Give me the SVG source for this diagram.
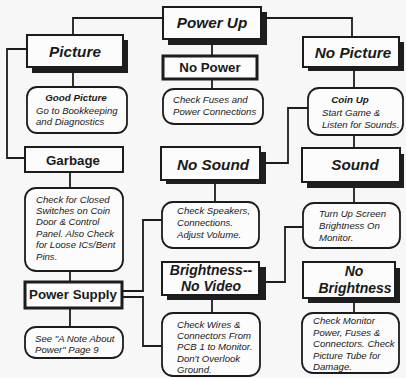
<svg xmlns="http://www.w3.org/2000/svg" width="406" height="378" viewBox="0 0 406 378">
<style>
.bg{fill:#f7f7f7}
.box{fill:#fcfcfc;stroke:#1c1c1c;stroke-width:2}
.thick{fill:#fcfcfc;stroke:#1c1c1c;stroke-width:3}
.sh{fill:#1e1e1e}
.rbox{fill:#fcfcfc;stroke:#1c1c1c;stroke-width:1.8}
.ln{fill:none;stroke:#1c1c1c;stroke-width:1.8}
.h{font-family:"Liberation Sans",Arial,sans-serif;font-weight:bold;font-style:italic;font-size:15.3px;fill:#1a1a1a;text-anchor:middle}
.h2{font-family:"Liberation Sans",Arial,sans-serif;font-weight:bold;font-style:italic;font-size:14px;fill:#1a1a1a;text-anchor:middle}
.hn{font-family:"Liberation Sans",Arial,sans-serif;font-weight:bold;font-size:13.3px;fill:#1a1a1a;text-anchor:middle}
.t{font-family:"Liberation Sans",Arial,sans-serif;font-style:italic;font-size:9.6px;fill:#1a1a1a}
.tb{font-family:"Liberation Sans",Arial,sans-serif;font-style:italic;font-weight:bold;font-size:9.8px;fill:#1a1a1a;text-anchor:middle}
</style>
<rect class="bg" x="0" y="0" width="406" height="378"/>
<g id="connectors">
<path class="ln" d="M163,18 H73 V35"/>
<path class="ln" d="M262,18 H352 V37"/>
<path class="ln" d="M212,39 V55"/>
<path class="ln" d="M212,79 V89"/>
<path class="ln" d="M73,68 V87"/>
<path class="ln" d="M27,49 H7 V158 H25"/>
<path class="ln" d="M354,67 V88"/>
<path class="ln" d="M308,108 H288 V163 H266"/>
<path class="ln" d="M354,135 V148"/>
<path class="ln" d="M215,180 V202"/>
<path class="ln" d="M354,182 V203"/>
<path class="ln" d="M303,227 H285 V282 H266"/>
<path class="ln" d="M70,172 V188"/>
<path class="ln" d="M70,271 V282"/>
<path class="ln" d="M70,308 V327"/>
<path class="ln" d="M122,291 H143 V220 H162"/>
<path class="ln" d="M122,297 H143 V346 H162"/>
<path class="ln" d="M212,295 V313"/>
<path class="ln" d="M354,298 V313"/>
</g>
<g id="power-up">
<rect class="sh" x="168" y="12" width="99" height="33"/>
<rect class="box" x="163" y="7" width="98" height="32"/>
<text class="h" x="212" y="28">Power Up</text>
</g>
<g id="picture">
<rect class="sh" x="32" y="40" width="96" height="33"/>
<rect class="box" x="27" y="35" width="96" height="32"/>
<text class="h" x="75" y="57">Picture</text>
</g>
<g id="no-power">
<rect class="thick" x="163" y="56" width="94" height="23"/>
<text class="hn" x="210" y="72">No Power</text>
</g>
<g id="no-picture">
<rect class="sh" x="308" y="42" width="96" height="29"/>
<rect class="box" x="303" y="37" width="96" height="30"/>
<text class="h" x="353" y="58">No Picture</text>
</g>
<g id="good-picture">
<rect class="rbox" x="27" y="87" width="100" height="46" rx="10"/>
<text class="tb" x="76" y="101">Good Picture</text>
<text class="t" x="36" y="114">Go to Bookkeeping</text>
<text class="t" x="36" y="125">and Diagnostics</text>
</g>
<g id="check-fuses">
<rect class="rbox" x="163" y="89" width="100" height="35" rx="11"/>
<text class="t" x="173" y="103">Check Fuses and</text>
<text class="t" x="173" y="114.5">Power Connections</text>
</g>
<g id="coin-up">
<rect class="rbox" x="308" y="88" width="95" height="47" rx="11"/>
<text class="tb" x="350" y="103">Coin Up</text>
<text class="t" x="322" y="116">Start Game &amp;</text>
<text class="t" x="322" y="127.5">Listen for Sounds.</text>
</g>
<g id="garbage">
<rect class="box" x="25" y="147" width="98" height="25"/>
<text class="hn" x="73" y="165">Garbage</text>
</g>
<g id="no-sound">
<rect class="sh" x="166" y="152" width="100" height="32"/>
<rect class="box" x="161" y="147" width="99" height="33"/>
<text class="h" x="213" y="170">No Sound</text>
</g>
<g id="sound">
<rect class="sh" x="307" y="154" width="97" height="34"/>
<rect class="box" x="302" y="148" width="98" height="34"/>
<text class="h" x="355" y="170">Sound</text>
</g>
<g id="check-closed">
<rect class="rbox" x="25" y="188" width="98" height="83" rx="11"/>
<text class="t" x="36" y="202.7">Check for Closed</text>
<text class="t" x="36" y="214">Switches on Coin</text>
<text class="t" x="36" y="225.4">Door &amp; Control</text>
<text class="t" x="36" y="236.8">Panel.  Also Check</text>
<text class="t" x="36" y="248.2">for Loose ICs/Bent</text>
<text class="t" x="36" y="259.6">Pins.</text>
</g>
<g id="check-speakers">
<rect class="rbox" x="162" y="202" width="97" height="46" rx="11"/>
<text class="t" x="177" y="214.3">Check Speakers,</text>
<text class="t" x="177" y="226">Connections.</text>
<text class="t" x="177" y="237.7">Adjust Volume.</text>
</g>
<g id="turn-up">
<rect class="rbox" x="303" y="203" width="97" height="45" rx="11"/>
<text class="t" x="319" y="217.3">Turn Up Screen</text>
<text class="t" x="319" y="229">Brightness On</text>
<text class="t" x="319" y="240.7">Monitor.</text>
</g>
<g id="brightness-no-video">
<rect class="sh" x="167" y="267" width="99" height="33"/>
<rect class="box" x="162" y="262" width="97" height="33"/>
<text class="h2" x="211" y="275">Brightness--</text>
<text class="h2" x="211" y="291">No Video</text>
</g>
<g id="no-brightness">
<rect class="sh" x="308" y="268" width="92" height="35"/>
<rect class="box" x="303" y="262" width="92" height="36"/>
<text class="h2" x="354" y="276">No</text>
<text class="h2" x="355" y="292.5">Brightness</text>
</g>
<g id="power-supply">
<rect class="thick" x="25" y="282" width="97" height="26"/>
<text class="hn" x="73" y="299">Power Supply</text>
</g>
<g id="see-note">
<rect class="rbox" x="25" y="327" width="98" height="31" rx="11"/>
<text class="t" x="35" y="341.7">See "A Note About</text>
<text class="t" x="35" y="352.5">Power"  Page 9</text>
</g>
<g id="check-wires">
<rect class="rbox" x="162" y="313" width="98" height="63" rx="11"/>
<text class="t" x="177" y="327.7">Check Wires &amp;</text>
<text class="t" x="177" y="339">Connectors From</text>
<text class="t" x="177" y="350.3">PCB 1 to Monitor.</text>
<text class="t" x="177" y="361.6">Don't Overlook</text>
<text class="t" x="177" y="372.9">Ground.</text>
</g>
<g id="check-monitor">
<rect class="rbox" x="302" y="313" width="97" height="60" rx="11"/>
<text class="t" x="313" y="324">Check Monitor</text>
<text class="t" x="313" y="335.7">Power,  Fuses  &amp;</text>
<text class="t" x="313" y="347.3">Connectors.  Check</text>
<text class="t" x="313" y="358.9">Picture Tube for</text>
<text class="t" x="313" y="370.3">Damage.</text>
</g>
</svg>
